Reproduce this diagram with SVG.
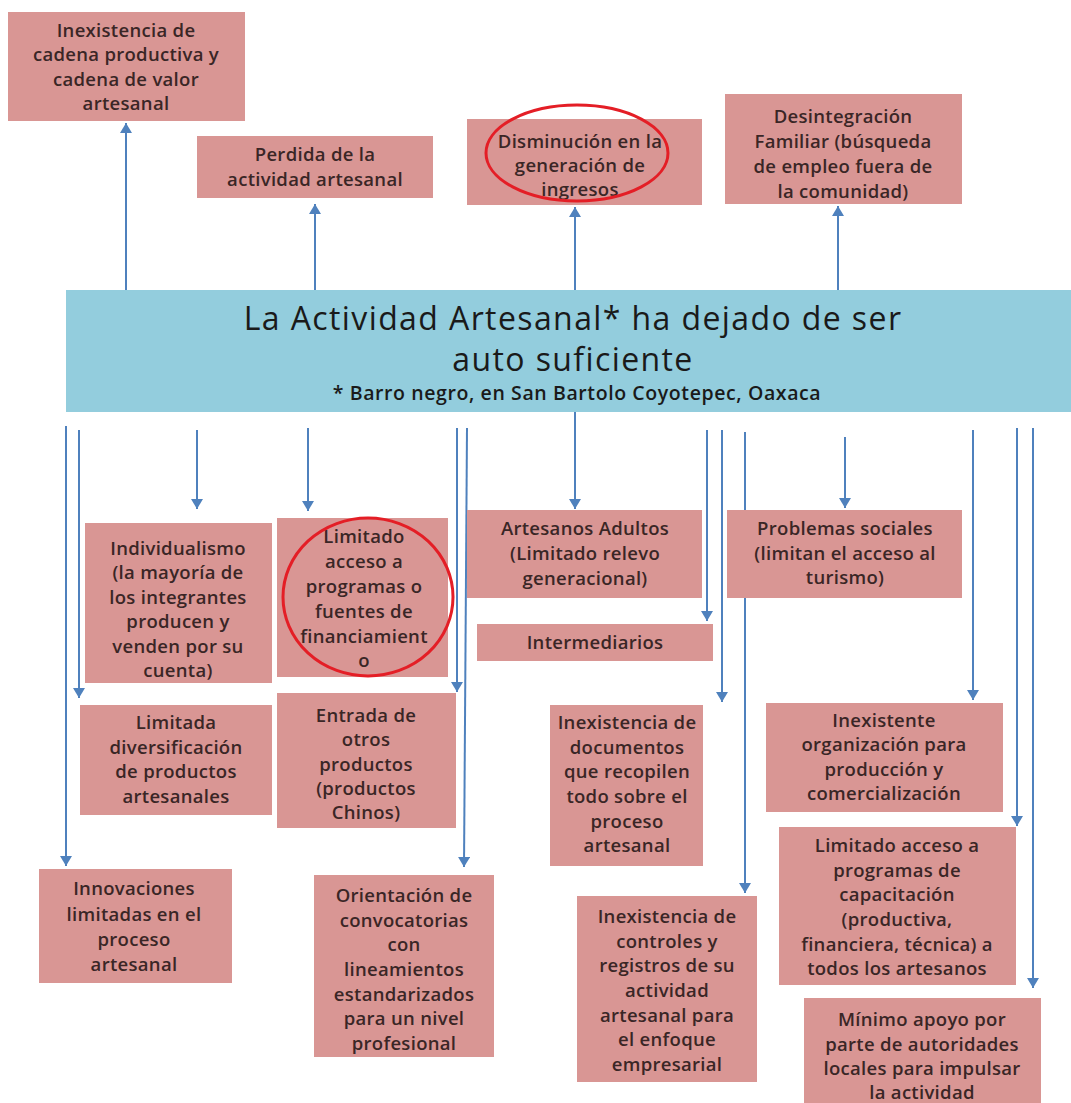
<svg xmlns="http://www.w3.org/2000/svg" width="1071" height="1103" viewBox="0 0 1071 1103">
<style>
.box{fill:#D99694;}
.t{font-family:"Open Sans","Liberation Sans",sans-serif;font-weight:600;font-size:18.5px;letter-spacing:0.3px;fill:#3a2626;text-anchor:middle;}
.c{stroke:#4F81BD;stroke-width:2;fill:none;marker-end:url(#ah);}
.ring{fill:none;stroke:#E41E26;stroke-width:3;}
.h{font-family:"Open Sans","Liberation Sans",sans-serif;fill:#1a1a1a;text-anchor:middle;}
</style>
<defs>
<marker id="ah" markerUnits="userSpaceOnUse" markerWidth="12" markerHeight="12" refX="10" refY="6" orient="auto">
<path d="M0,0 L10,6 L0,12 z" fill="#4F81BD"/>
</marker>
</defs>
<rect width="1071" height="1103" fill="#ffffff"/>
<g id="connectors">
<line class="c" x1="126" y1="290" x2="126" y2="123"/>
<line class="c" x1="315" y1="290" x2="315" y2="204"/>
<line class="c" x1="575" y1="290" x2="575" y2="207"/>
<line class="c" x1="838" y1="290" x2="838" y2="206"/>
<line class="c" x1="66" y1="426" x2="66" y2="866"/>
<line class="c" x1="79" y1="430" x2="79" y2="698"/>
<line class="c" x1="197" y1="430" x2="197" y2="509"/>
<line class="c" x1="308" y1="428" x2="308" y2="511"/>
<line class="c" x1="457" y1="428" x2="457" y2="692"/>
<line class="c" x1="467" y1="428" x2="464" y2="867"/>
<line class="c" x1="575" y1="412" x2="575" y2="509"/>
<line class="c" x1="707" y1="430" x2="707" y2="621"/>
<line class="c" x1="722" y1="430" x2="722" y2="702"/>
<line class="c" x1="745" y1="432" x2="745" y2="893"/>
<line class="c" x1="845" y1="437" x2="845" y2="508"/>
<line class="c" x1="973" y1="430" x2="973" y2="700"/>
<line class="c" x1="1017" y1="428" x2="1017" y2="826"/>
<line class="c" x1="1033" y1="428" x2="1033" y2="988"/>
</g>
<g id="problem">
<rect x="66" y="290" width="1005" height="122" fill="#93CDDD"/>
<text class="h" x="573" y="330" font-size="32" letter-spacing="1.4">La Actividad Artesanal* ha dejado de ser</text>
<text class="h" x="573" y="371" font-size="32" letter-spacing="1.4">auto suficiente</text>
<text class="h" x="577" y="400" font-size="19.5" font-weight="600" letter-spacing="0.6">* Barro negro, en San Bartolo Coyotepec, Oaxaca</text>
</g>
<g id="e1"><rect class="box" x="8" y="12" width="237" height="109"/>
<text class="t"><tspan x="126" y="37">Inexistencia de</tspan><tspan x="126" y="61">cadena productiva y</tspan><tspan x="126" y="86">cadena de valor</tspan><tspan x="126" y="110">artesanal</tspan></text></g>
<g id="e2"><rect class="box" x="197" y="136" width="236" height="62"/>
<text class="t"><tspan x="315" y="161">Perdida de la</tspan><tspan x="315" y="186">actividad artesanal</tspan></text></g>
<g id="e3"><rect class="box" x="467" y="119" width="235" height="86"/>
<text class="t"><tspan x="580" y="148">Disminución en la</tspan><tspan x="580" y="172">generación de</tspan><tspan x="580" y="196">ingresos</tspan></text>
<ellipse class="ring" cx="577" cy="153" rx="91" ry="48"/></g>
<g id="e4"><rect class="box" x="725" y="94" width="237" height="110"/>
<text class="t"><tspan x="843" y="123">Desintegración</tspan><tspan x="843" y="148">Familiar (búsqueda</tspan><tspan x="843" y="173">de empleo fuera de</tspan><tspan x="843" y="198">la comunidad)</tspan></text></g>
<g id="c1"><rect class="box" x="85" y="523" width="187" height="160"/>
<text class="t"><tspan x="178" y="555">Individualismo</tspan><tspan x="178" y="579">(la mayoría de</tspan><tspan x="178" y="604">los integrantes</tspan><tspan x="178" y="628">producen y</tspan><tspan x="178" y="653">venden por su</tspan><tspan x="178" y="677">cuenta)</tspan></text></g>
<g id="c2"><rect class="box" x="277" y="518" width="171" height="159"/>
<text class="t"><tspan x="364" y="543">Limitado</tspan><tspan x="364" y="568">acceso a</tspan><tspan x="364" y="593">programas o</tspan><tspan x="364" y="618">fuentes de</tspan><tspan x="364" y="643">financiamient</tspan><tspan x="364" y="667">o</tspan></text>
<ellipse class="ring" cx="368" cy="597" rx="85" ry="79"/></g>
<g id="c3"><rect class="box" x="467" y="510" width="235" height="88"/>
<text class="t"><tspan x="585" y="535">Artesanos Adultos</tspan><tspan x="585" y="560">(Limitado relevo</tspan><tspan x="585" y="585">generacional)</tspan></text></g>
<g id="c4"><rect class="box" x="727" y="510" width="235" height="88"/>
<text class="t"><tspan x="845" y="535">Problemas sociales</tspan><tspan x="845" y="560">(limitan el acceso al</tspan><tspan x="845" y="584">turismo)</tspan></text></g>
<g id="c5"><rect class="box" x="477" y="624" width="236" height="37"/>
<text class="t"><tspan x="595" y="649">Intermediarios</tspan></text></g>
<g id="c6"><rect class="box" x="80" y="705" width="192" height="110"/>
<text class="t"><tspan x="176" y="729">Limitada</tspan><tspan x="176" y="754">diversificación</tspan><tspan x="176" y="778">de productos</tspan><tspan x="176" y="803">artesanales</tspan></text></g>
<g id="c7"><rect class="box" x="277" y="693" width="179" height="135"/>
<text class="t"><tspan x="366" y="722">Entrada de</tspan><tspan x="366" y="746">otros</tspan><tspan x="366" y="771">productos</tspan><tspan x="366" y="795">(productos</tspan><tspan x="366" y="819">Chinos)</tspan></text></g>
<g id="c8"><rect class="box" x="550" y="705" width="153" height="161"/>
<text class="t"><tspan x="627" y="729">Inexistencia de</tspan><tspan x="627" y="754">documentos</tspan><tspan x="627" y="778">que recopilen</tspan><tspan x="627" y="803">todo sobre el</tspan><tspan x="627" y="828">proceso</tspan><tspan x="627" y="852">artesanal</tspan></text></g>
<g id="c9"><rect class="box" x="766" y="703" width="237" height="109"/>
<text class="t"><tspan x="884" y="727">Inexistente</tspan><tspan x="884" y="751">organización para</tspan><tspan x="884" y="776">producción y</tspan><tspan x="884" y="800">comercialización</tspan></text></g>
<g id="c10"><rect class="box" x="39" y="869" width="193" height="114"/>
<text class="t"><tspan x="134" y="895">Innovaciones</tspan><tspan x="134" y="921">limitadas en el</tspan><tspan x="134" y="946">proceso</tspan><tspan x="134" y="971">artesanal</tspan></text></g>
<g id="c11"><rect class="box" x="314" y="875" width="180" height="182"/>
<text class="t"><tspan x="404" y="902">Orientación de</tspan><tspan x="404" y="927">convocatorias</tspan><tspan x="404" y="951">con</tspan><tspan x="404" y="976">lineamientos</tspan><tspan x="404" y="1001">estandarizados</tspan><tspan x="404" y="1025">para un nivel</tspan><tspan x="404" y="1050">profesional</tspan></text></g>
<g id="c12"><rect class="box" x="577" y="896" width="180" height="186"/>
<text class="t"><tspan x="667" y="923">Inexistencia de</tspan><tspan x="667" y="948">controles y</tspan><tspan x="667" y="972">registros de su</tspan><tspan x="667" y="997">actividad</tspan><tspan x="667" y="1022">artesanal para</tspan><tspan x="667" y="1046">el enfoque</tspan><tspan x="667" y="1071">empresarial</tspan></text></g>
<g id="c13"><rect class="box" x="779" y="827" width="237" height="158"/>
<text class="t"><tspan x="897" y="852">Limitado acceso a</tspan><tspan x="897" y="877">programas de</tspan><tspan x="897" y="901">capacitación</tspan><tspan x="897" y="926">(productiva,</tspan><tspan x="897" y="951">financiera, técnica) a</tspan><tspan x="897" y="975">todos los artesanos</tspan></text></g>
<g id="c14"><rect class="box" x="804" y="998" width="237" height="110"/>
<text class="t"><tspan x="922" y="1026">Mínimo apoyo por</tspan><tspan x="922" y="1051">parte de autoridades</tspan><tspan x="922" y="1075">locales para impulsar</tspan><tspan x="922" y="1099">la actividad</tspan></text></g>
</svg>
